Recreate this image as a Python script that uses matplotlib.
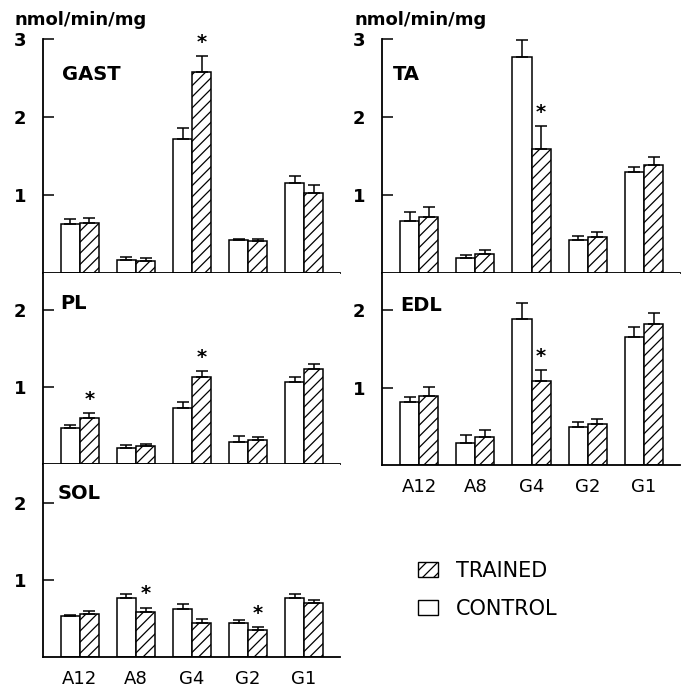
import numpy as np
import matplotlib
matplotlib.use("Agg")
import matplotlib.pyplot as plt
from matplotlib.patches import Patch

# Enzyme activities (nmol/min/mg) per muscle, control vs trained, mean and SE
isoforms = ["A12", "A8", "G4", "G2", "G1"]

gast_control = [0.63, 0.17, 1.72, 0.42, 1.15]
gast_control_se = [0.06, 0.04, 0.14, 0.02, 0.09]
gast_trained = [0.64, 0.16, 2.58, 0.41, 1.02]
gast_trained_se = [0.06, 0.03, 0.20, 0.02, 0.11]

ta_control = [0.67, 0.19, 2.77, 0.42, 1.29]
ta_control_se = [0.11, 0.04, 0.22, 0.05, 0.07]
ta_trained = [0.72, 0.24, 1.59, 0.46, 1.38]
ta_trained_se = [0.12, 0.05, 0.29, 0.07, 0.11]

pl_control = [0.47, 0.21, 0.73, 0.29, 1.06]
pl_control_se = [0.04, 0.04, 0.08, 0.07, 0.07]
pl_trained = [0.60, 0.23, 1.13, 0.31, 1.23]
pl_trained_se = [0.06, 0.03, 0.08, 0.04, 0.07]

edl_control = [0.81, 0.28, 1.88, 0.49, 1.65]
edl_control_se = [0.07, 0.11, 0.21, 0.06, 0.13]
edl_trained = [0.89, 0.36, 1.08, 0.53, 1.82]
edl_trained_se = [0.12, 0.09, 0.15, 0.06, 0.14]

sol_control = [0.53, 0.77, 0.62, 0.44, 0.77]
sol_control_se = [0.02, 0.04, 0.07, 0.04, 0.05]
sol_trained = [0.56, 0.58, 0.44, 0.35, 0.70]
sol_trained_se = [0.04, 0.06, 0.05, 0.04, 0.04]

# significant training effect (index into isoforms)
gast_sig = [2]
ta_sig = [2]
pl_sig = [0, 2]
edl_sig = [2]
sol_sig = [1, 3]

HATCH = "///"
W = 0.34
plt.rcParams["hatch.linewidth"] = 0.9

fig = plt.figure(figsize=(6.89, 6.89), dpi=100)


def panel(rect, name, ctrl, ctrl_se, trn, trn_se, sig, ymax, yticks, xlabels, name_xy):
    ax = fig.add_axes(rect)
    x = np.arange(len(isoforms))
    ax.bar(x - W / 2, ctrl, W, color="white", edgecolor="black", linewidth=1.1)
    ax.bar(x + W / 2, trn, W, color="white", edgecolor="black", linewidth=1.1, hatch=HATCH)
    ax.errorbar(x - W / 2, ctrl, yerr=[np.zeros(5), ctrl_se], fmt="none",
                ecolor="black", elinewidth=1.1, capsize=4, capthick=1.1)
    ax.errorbar(x + W / 2, trn, yerr=[np.zeros(5), trn_se], fmt="none",
                ecolor="black", elinewidth=1.1, capsize=4, capthick=1.1)
    for i in sig:
        ax.annotate("*", (x[i] + W / 2, trn[i] + trn_se[i]), xytext=(0, 3),
                    textcoords="offset points", ha="center", va="bottom",
                    fontsize=14, fontweight="bold")
    ax.set_xlim(-0.66, 4.64)
    ax.set_ylim(0, ymax)
    ax.set_yticks(yticks)
    ax.set_yticklabels([str(t) for t in yticks])
    ax.tick_params(axis="y", direction="in", length=8, width=1.1, pad=12,
                   labelsize=13)
    for t in ax.get_yticklabels():
        t.set_fontweight("bold")
    ax.set_xticks(x)
    if xlabels:
        ax.set_xticklabels(isoforms, fontsize=13)
        ax.tick_params(axis="x", length=0, pad=9)
    else:
        ax.set_xticklabels([])
        ax.tick_params(axis="x", length=0)
    for s in ["top", "right"]:
        ax.spines[s].set_visible(False)
    ax.spines["left"].set_linewidth(1.3)
    ax.spines["bottom"].set_linewidth(1.3)
    ax.text(name_xy[0], name_xy[1], name, transform=ax.transAxes,
            fontsize=14, fontweight="bold", va="center", ha="left")
    return ax


# left column: GAST, PL, SOL
panel([0.0624, 0.6038, 0.431, 0.3396], "GAST", gast_control, gast_control_se,
      gast_trained, gast_trained_se, gast_sig, 3.0, [1, 2, 3], False, (0.064, 0.85))
panel([0.0624, 0.3266, 0.431, 0.2772], "PL", pl_control, pl_control_se,
      pl_trained, pl_trained_se, pl_sig, 2.48, [1, 2], False, (0.057, 0.838))
panel([0.0624, 0.0464, 0.431, 0.2802], "SOL", sol_control, sol_control_se,
      sol_trained, sol_trained_se, sol_sig, 2.5, [1, 2], True, (0.05, 0.845))

# right column: TA, EDL
panel([0.5544, 0.6038, 0.4325, 0.3396], "TA", ta_control, ta_control_se,
      ta_trained, ta_trained_se, ta_sig, 3.0, [1, 2, 3], False, (0.037, 0.85))
panel([0.5544, 0.3251, 0.4325, 0.2787], "EDL", edl_control, edl_control_se,
      edl_trained, edl_trained_se, edl_sig, 2.48, [1, 2], True, (0.06, 0.833))

fig.text(15 / 689, 1 - 20 / 689, "nmol/min/mg", fontsize=13, fontweight="bold",
         va="center", ha="left")
fig.text(355 / 689, 1 - 20 / 689, "nmol/min/mg", fontsize=13, fontweight="bold",
         va="center", ha="left")

handles = [Patch(facecolor="white", edgecolor="black", hatch=HATCH, linewidth=1.0),
           Patch(facecolor="white", edgecolor="black", linewidth=1.0)]
fig.legend(handles, ["TRAINED", "CONTROL"], loc="upper left",
           bbox_to_anchor=(418 / 689, 1 - 561 / 689), frameon=False,
           fontsize=15, handlelength=0.95, handleheight=0.75,
           handletextpad=0.85, labelspacing=0.85, borderpad=0, borderaxespad=0)

fig.savefig("out.png", dpi=100)
